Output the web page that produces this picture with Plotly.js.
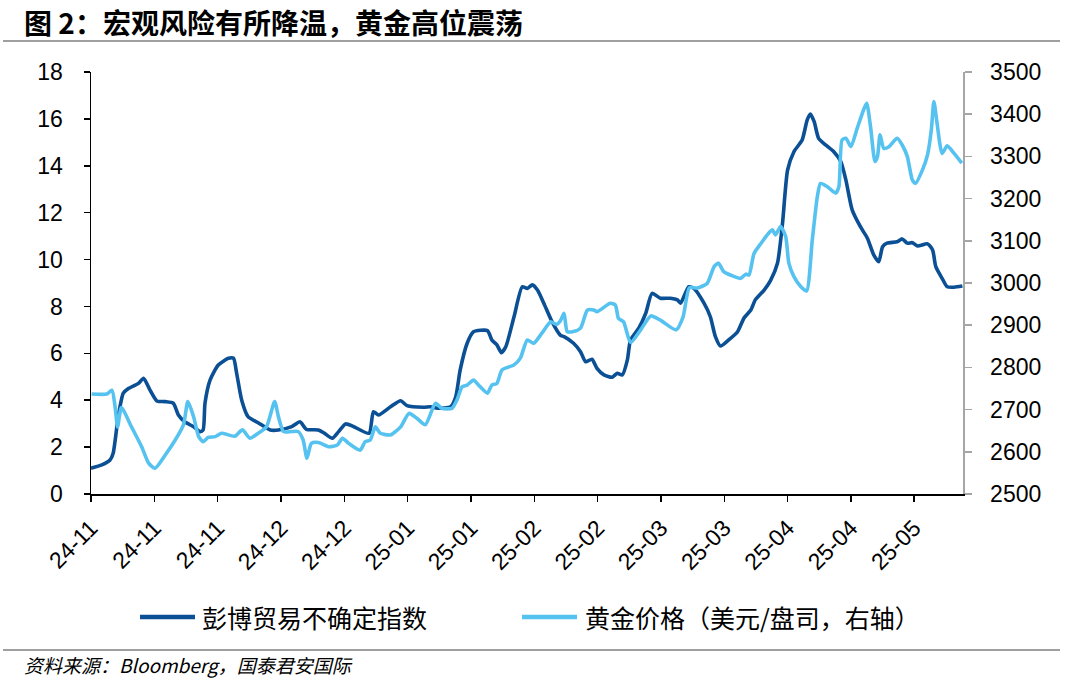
<!DOCTYPE html>
<html>
<head>
<meta charset="utf-8">
<script src="https://cdn.plot.ly/plotly-3.0.1.min.js"></script>
<style>html,body{margin:0;padding:0;background:#fff;}#chart{width:1080px;height:684px;}</style>
</head>
<body>
<div id="chart"></div>
<script>
// Trading-day index (x) and values
const uncX = [0,1.7,3,3.5,4.3,5.1,5.9,7.5,8.3,9.3,10.4,11.7,13,13.8,14.8,16.2,17.2,17.7,18,18.8,20.1,21.7,22.5,23,23.8,24.8,26.4,28.3,29.6,31.7,33,34,35.9,36.8,38.1,39.1,40.2,41.5,43.9,44.6,45.4,47.3,48.9,49.9,52.5,53.6,54.7,56.8,57.6,58.3,59.4,60.4,62.6,63.3,64.1,64.8,65.5,66.8,68.1,68.9,69.7,70.5,71.5,72.8,74.1,74.7,76.2,77.3,78.1,79.1,79.9,81,82.3,83.1,83.9,84.7,85.2,86.5,87.6,88.6,89.9,91.5,92.6,93.1,94.4,95.2,96.8,97.8,98.6,99.4,100.7,102.1,103.1,104.2,104.9,106.3,107.3,108.4,109.2,110,111,112.3,113.1,113.6,114.2,114.9,116,117.3,118.4,119.2,120.2,121.5,122.6,123.6,124.4,125,125.7,127.3,128.1,128.9,129.7,130.5,132.1,132.9,133.4,134.4,135.2,136.3,137.6];
const uncY = [1.1,1.24,1.45,1.74,3.3,4.3,4.5,4.72,4.94,4.44,3.97,3.94,3.87,3.37,3.08,2.87,2.66,2.73,3.87,4.86,5.5,5.79,5.79,5.15,4.0,3.3,3.04,2.73,2.73,2.87,3.08,2.76,2.73,2.6,2.38,2.66,2.99,2.87,2.59,3.51,3.37,3.72,3.98,3.77,3.7,3.72,3.66,3.72,4.15,5.29,6.43,6.92,6.97,6.57,6.36,6.03,6.28,7.56,8.84,8.77,8.92,8.7,8.14,7.35,6.78,6.71,6.43,6.07,5.64,5.75,5.36,5.08,4.98,5.15,5.08,5.72,6.57,7.07,7.71,8.56,8.35,8.35,8.28,8.14,8.84,8.77,8.14,7.56,6.71,6.31,6.57,6.92,7.5,7.85,8.28,8.7,9.1,9.84,11.55,13.82,14.6,15.1,15.96,16.21,15.88,15.17,14.89,14.6,14.18,13.4,12.12,11.4,10.91,10.2,9.91,10.55,10.7,10.76,10.88,10.7,10.72,10.58,10.67,10.41,9.7,9.2,8.84,8.82,8.87];

const goldX = [0.1,2.5,3.3,3.8,4.2,4.8,6.4,8,9.1,10.1,11.7,13.3,14.6,15.3,16.2,17,17.7,18.5,19.6,20.6,22.7,23.9,25.1,26.4,27.7,29,29.6,30.4,31.7,32.7,33.5,34.1,34.8,35.9,37.6,38.9,39.7,40.7,42.5,43.3,44.1,44.9,45.7,47.3,48.9,50.2,51.5,52.8,54.4,55.4,57,57.8,58.6,59.4,60.4,61.2,62.6,63.3,64.1,64.9,66.8,67.8,68.9,69.9,71.2,72.6,73.5,74.1,74.7,75.2,76.2,77.3,78.4,79.4,79.9,82,82.8,83.3,84.1,85.2,86.8,88.4,89.9,92.4,93.5,94.5,95.7,97.3,98.4,99.1,99.9,101.3,102.6,103.4,103.9,104.7,105.7,107,107.6,108.1,108.9,109.7,110.2,111,112.1,113,113.9,114.7,115.2,116.3,117.6,118.1,118.6,119.2,120,121,122.1,122.5,123.1,123.8,124.2,124.6,125.2,126,127.3,128.1,128.9,129.7,130.2,131.3,132.1,132.7,133.1,133.6,134.4,135.2,136.3,137.5];
const goldY = [2737,2737,2746,2707,2659,2705,2659,2612,2573,2561,2592,2628,2664,2719,2683,2636,2624,2634,2636,2644,2637,2652,2632,2644,2659,2719,2683,2648,2648,2648,2628,2585,2620,2622,2612,2616,2632,2620,2604,2624,2628,2659,2644,2640,2659,2691,2679,2664,2715,2703,2703,2723,2754,2758,2770,2758,2739,2758,2762,2794,2806,2822,2865,2857,2881,2908,2902,2910,2928,2885,2885,2893,2936,2936,2932,2952,2948,2916,2908,2859,2889,2922,2912,2889,2920,2989,2988,2999,3039,3047,3027,3017,3011,3021,3019,3070,3092,3118,3126,3114,3134,3110,3047,3015,2991,2981,3102,3205,3236,3228,3213,3228,3339,3343,3323,3367,3414,3426,3370,3288,3300,3351,3319,3323,3343,3327,3300,3244,3236,3268,3304,3363,3430,3379,3307,3325,3307,3284];

const tickPos = [0,10,20,30,40,50,60,70,80,90,100,110,120,130];
const tickLabels = ['24-11','24-11','24-11','24-12','24-12','25-01','25-01','25-02','25-02','25-03','25-03','25-04','25-04','25-05'];

const seriesNames = ['彭博贸易不确定指数','黄金价格（美元/盘司，右轴）'];
const seriesColors = ['#0B4F94', '#56C2F0'];

const numFont = 'Liberation Sans, Arial, sans-serif';
const cjkFont = 'Noto Sans CJK SC, sans-serif';

// plot-area geometry in pixels (for placing decorations only)
const L = 91, R = 963, T = 72, B = 494;
const px = v => (v - L) / (R - L);
const py = v => (B - v) / (B - T);

const traces = [
  {x: uncX, y: uncY, name: seriesNames[0], type: 'scatter', mode: 'lines',
   line: {color: seriesColors[0], width: 3.6, shape: 'spline', smoothing: 0.6}, yaxis: 'y'},
  {x: goldX, y: goldY, name: seriesNames[1], type: 'scatter', mode: 'lines',
   line: {color: seriesColors[1], width: 3.6, shape: 'spline', smoothing: 0.6}, yaxis: 'y2'}
];

const legendItems = [{x0: 140, x1: 195, tx: 200}, {x0: 522, x1: 577, tx: 583}];
const legY = 617;

const shapes = [
  {type: 'line', xref: 'paper', yref: 'paper', x0: px(3), x1: px(1060), y0: py(41), y1: py(41),
   line: {color: '#7F7F7F', width: 1.5}},
  {type: 'line', xref: 'paper', yref: 'paper', x0: px(3), x1: px(1060), y0: py(650), y1: py(650),
   line: {color: '#7F7F7F', width: 1.5}}
];
const annotations = [
  {text: '<b>图 2：宏观风险有所降温，黄金高位震荡</b>', xref: 'paper', yref: 'paper', x: px(22), y: py(22),
   xanchor: 'left', yanchor: 'middle', showarrow: false, font: {family: cjkFont, size: 28, color: '#000'}},
  {text: '<i>资料来源：Bloomberg，国泰君安国际</i>', xref: 'paper', yref: 'paper', x: px(22), y: py(664),
   xanchor: 'left', yanchor: 'middle', showarrow: false, font: {family: cjkFont, size: 19, color: '#000'}}
];
legendItems.forEach((it, i) => {
  shapes.push({type: 'line', xref: 'paper', yref: 'paper', x0: px(it.x0), x1: px(it.x1), y0: py(legY), y1: py(legY),
               line: {color: seriesColors[i], width: 4.5}});
  annotations.push({text: seriesNames[i], xref: 'paper', yref: 'paper', x: px(it.tx), y: py(legY),
                    xanchor: 'left', yanchor: 'middle', showarrow: false,
                    font: {family: cjkFont, size: 25, color: '#000'}});
});

const layout = {
  width: 1080, height: 684,
  margin: {l: L, r: 1080 - R, t: T, b: 684 - B, pad: 0},
  paper_bgcolor: '#fff', plot_bgcolor: '#fff',
  xaxis: {range: [0, 137.7], tickmode: 'array', tickvals: tickPos, ticktext: tickLabels, tickangle: -45,
          showgrid: false, zeroline: false, showline: true, linecolor: '#000', linewidth: 1.5,
          ticks: 'outside', ticklen: 6, tickcolor: '#000', tickwidth: 1.5, ticklabelstandoff: 4,
          tickfont: {family: numFont, size: 23, color: '#000'}},
  yaxis: {range: [0, 18], dtick: 2, tick0: 0, showgrid: false, zeroline: false, showline: true,
          linecolor: '#000', linewidth: 1.5, ticks: 'outside', ticklen: 6, tickcolor: '#000', tickwidth: 1.5,
          tickfont: {family: numFont, size: 23, color: '#000'}, ticklabelstandoff: 16},
  yaxis2: {range: [2500, 3500], dtick: 100, overlaying: 'y', side: 'right', showgrid: false, zeroline: false,
           showline: true, linecolor: '#A6A6A6', linewidth: 1.5, ticks: 'outside', ticklen: 7, tickcolor: '#A6A6A6', tickwidth: 1.5,
           tickfont: {family: numFont, size: 23, color: '#000'}, ticklabelstandoff: 14},
  showlegend: false,
  shapes: shapes,
  annotations: annotations
};

Plotly.newPlot('chart', traces, layout, {displayModeBar: false, staticPlot: true});
</script>
</body>
</html>
